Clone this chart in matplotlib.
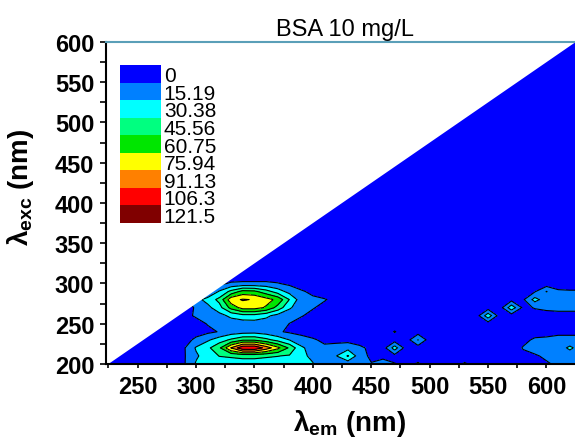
import matplotlib
matplotlib.use('Agg')
import matplotlib.pyplot as plt
from matplotlib.ticker import MultipleLocator
import numpy as np

plt.rcParams['font.family'] = ['Liberation Sans', 'DejaVu Sans']
plt.rcParams['mathtext.fontset'] = 'custom'
plt.rcParams['mathtext.rm'] = 'Liberation Sans:bold'
plt.rcParams['mathtext.it'] = 'Liberation Sans:bold'
plt.rcParams['mathtext.bf'] = 'Liberation Sans:bold'

titulo = 'BSA 10 mg/L'

# niveles de intensidad y sus colores
niveles = [0, 15.19, 30.38, 45.56, 60.75, 75.94, 91.13, 106.3, 121.5]
etiquetas_niveles = ['0', '15.19', '30.38', '45.56', '60.75', '75.94', '91.13', '106.3', '121.5']
colores = ['#0000FF', '#0080FF', '#00FFFF', '#00FF80', '#00E600',
           '#FFFF00', '#FF8000', '#FF0000', '#800000']
nivel_max = 136.69

# longitudes de onda (nm)
em = list(range(220, 640, 10))
ex = [200, 210, 220, 230, 240, 250, 260, 270, 280, 290, 300, 310, 600]

# dispersion Rayleigh: sin datos cuando em < ex + 24
desplazamiento_rayleigh = 24

# intensidad por fila de excitacion
fila_200 = [6, 6, 6, 6, 7, 8, 10, 14, 32, 36,
            38, 40, 41, 41, 40, 38, 36, 33, 31, 24,
            20, 20, 17, 16, 17, 16, 11, 17, 10, 9,
            9, 17, 9, 8, 8, 8, 9, 11, 14, 17,
            18, 18]
fila_210 = [6, 6, 6, 6, 7, 8, 9, 14, 28, 38,
            46, 47, 48, 48, 47, 46, 44, 33, 28, 24,
            30, 47, 22, 12, 14, 10, 8, 8, 8, 8,
            8, 8, 8, 8, 8, 8, 12, 14, 17, 19,
            20, 20]
fila_220 = [6, 6, 6, 6, 7, 7, 8, 14, 32, 42,
            58, 92, 119, 120, 100, 80, 58, 33, 24, 18,
            22, 25, 18, 12, 8, 38, 8, 8, 8, 8,
            8, 8, 8, 8, 8, 9, 16, 19, 20, 22,
            34, 22]
fila_230 = [6, 6, 6, 6, 6, 7, 8, 10, 18, 28,
            38, 48, 58, 58, 50, 40, 30, 22, 17, 12,
            10, 10, 9, 8, 8, 8, 8, 31, 8, 8,
            8, 8, 8, 8, 8, 8, 12, 17, 17, 18,
            18, 18]
fila_240 = [6, 6, 6, 6, 6, 6, 7, 8, 10, 12,
            16, 22, 24, 25, 22, 17, 13, 10, 8, 8,
            8, 8, 8, 8, 8, 16, 8, 8, 8, 8,
            8, 8, 8, 8, 8, 8, 8, 10, 12, 13,
            13, 13]
fila_250 = [6, 6, 6, 6, 6, 6, 7, 8, 10, 16,
            20, 22, 22, 23, 22, 19, 15, 11, 8, 8,
            8, 8, 8, 8, 8, 8, 8, 8, 8, 8,
            8, 8, 8, 8, 8, 8, 8, 8, 8, 8,
            8, 8]
fila_260 = [6, 6, 6, 6, 6, 7, 8, 11, 17, 18,
            25, 34, 40, 40, 34, 25, 19, 16, 12, 9,
            8, 8, 8, 8, 8, 8, 8, 8, 8, 8,
            8, 8, 8, 40, 8, 8, 8, 10, 12, 13,
            13, 13]
fila_270 = [6, 6, 6, 6, 6, 7, 9, 12, 16, 26,
            40, 66, 82, 82, 74, 55, 33, 20, 16, 12,
            9, 8, 8, 8, 8, 8, 8, 8, 8, 8,
            8, 8, 8, 8, 8, 40, 12, 16, 17, 17,
            17, 17]
fila_280 = [6, 6, 6, 6, 6, 7, 8, 13, 25, 36,
            50, 86, 92.5, 90, 82, 72, 45, 22, 18, 16,
            12, 9, 8, 8, 8, 8, 8, 8, 8, 8,
            8, 8, 8, 8, 8, 10, 13, 36, 22, 20,
            20, 20]
fila_290 = [6, 6, 6, 6, 6, 6, 6, 7, 8, 15,
            32, 50, 66, 64, 52, 38, 25, 17, 12, 9,
            8, 8, 8, 8, 8, 8, 8, 8, 8, 8,
            8, 8, 8, 8, 8, 8, 8, 14, 31, 18,
            17, 17]
fila_300 = [6, 6, 6, 6, 6, 6, 6, 6, 6, 8,
            12, 17, 18, 18, 18, 16, 12, 8, 6, 6,
            6, 6, 6, 6, 6, 6, 6, 6, 6, 6,
            6, 6, 6, 6, 6, 6, 6, 6, 6, 6,
            6, 6]
fila_310 = [6] * len(em)
fila_600 = [6] * len(em)

intensidad = np.array([fila_200, fila_210, fila_220, fila_230, fila_240,
                       fila_250, fila_260, fila_270, fila_280, fila_290,
                       fila_300, fila_310, fila_600])

fig = plt.figure(figsize=(5.75, 4.39), dpi=100)
ax = fig.add_axes([0.1843, 0.1686, 0.8157, 0.7335])

ax.contourf(em, ex, intensidad, levels=niveles + [nivel_max], colors=colores)
ax.contour(em, ex, intensidad, levels=niveles[1:], colors='k', linewidths=0.8)

# zona sin datos por encima de la diagonal
ex_diag = np.array([200, 600])
ax.fill_betweenx(ex_diag, 220, ex_diag + desplazamiento_rayleigh,
                 color='white', linewidth=0, zorder=2.2)

ax.set_xlim(222.9, 624.4)
ax.set_ylim(200, 600)
ax.set_xticks(range(250, 601, 50))
ax.set_yticks(range(200, 601, 50))
ax.xaxis.set_minor_locator(MultipleLocator(25))
ax.yaxis.set_minor_locator(MultipleLocator(25))
ax.tick_params(axis='x', which='both', direction='out', length=3, width=1.2,
               pad=5, labelsize=17)
ax.tick_params(axis='y', which='both', direction='out', length=4.5, width=1.2,
               pad=4, labelsize=17)
for lbl in ax.get_xticklabels() + ax.get_yticklabels():
    lbl.set_fontweight('bold')

ax.spines['right'].set_visible(False)
ax.spines['top'].set_color('#5A9FB8')
ax.spines['top'].set_linewidth(1.5)
ax.spines['left'].set_linewidth(1.5)
ax.spines['bottom'].set_linewidth(1.5)

ax.set_title(titulo, fontsize=17, pad=5, x=0.51)
ax.set_xlabel('λ$_{em}$ (nm)', fontsize=20, fontweight='bold')
ax.xaxis.set_label_coords(0.52, -0.135)
ax.set_ylabel('λ$_{exc}$ (nm)', fontsize=20, fontweight='bold')
ax.yaxis.set_label_coords(-0.15, 0.553)

# leyenda de niveles
ax_ley = fig.add_axes([0.2087, 0.4897, 0.0713, 0.36])
ax_ley.barh(range(len(niveles)), [1] * len(niveles), height=1.0,
            color=colores, linewidth=0)
ax_ley.set_ylim(len(niveles) - 0.5, -0.5)
ax_ley.set_xlim(0, 1)
ax_ley.yaxis.tick_right()
ax_ley.set_yticks(range(len(niveles)))
ax_ley.set_yticklabels(etiquetas_niveles, fontsize=15)
ax_ley.tick_params(length=0, pad=2)
ax_ley.set_xticks([])
for s in ax_ley.spines.values():
    s.set_visible(False)

fig.savefig('out.png', dpi=100)
